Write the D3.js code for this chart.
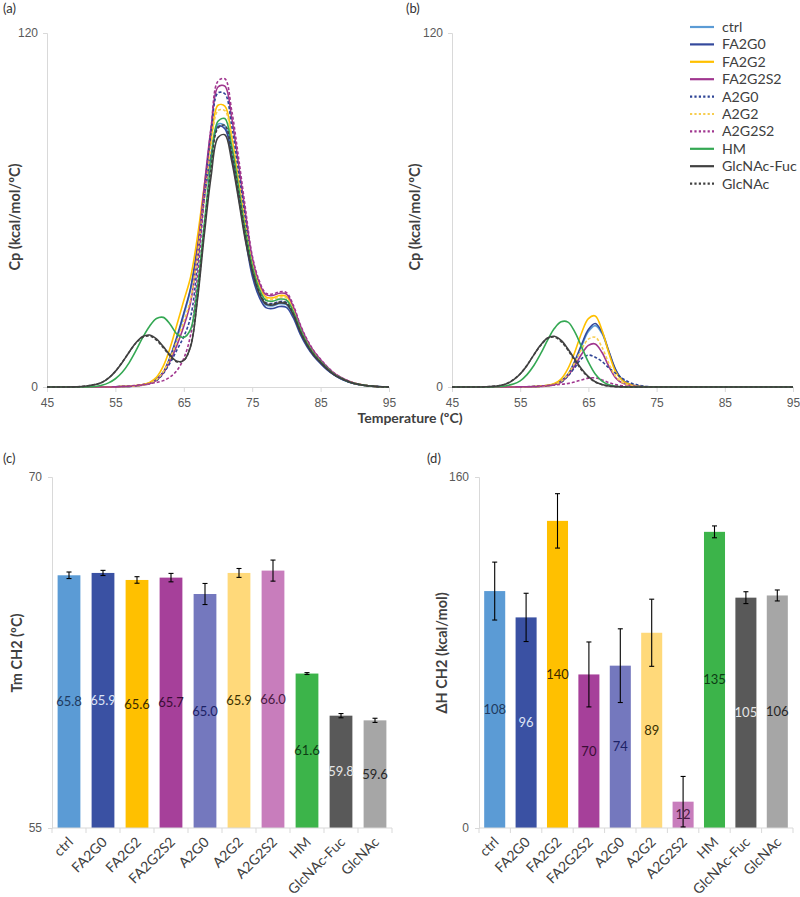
<!DOCTYPE html>
<html>
<head>
<meta charset="utf-8">
<script src="https://cdn.jsdelivr.net/npm/d3@7"></script>
<style>
  body { margin: 0; background: #fff; }
  svg { font-family: Lato, "Open Sans", sans-serif; }
  .domain { stroke: #d9d9d9; }
  .tick line { stroke: #d9d9d9; }
  .tick text { fill: #595959; font-size: 12px; }
</style>
</head>
<body>
<div id="chart"></div>
<script>
// temperature grid (ºC)
const temps = [45, 46, 47, 48, 49, 50, 51, 52, 53, 54, 55, 56, 57, 58, 59, 60, 61, 62, 63, 64,
  65, 66, 67, 68, 69, 70, 71, 72, 73, 74, 75, 76, 77, 78, 79, 80, 81, 82, 83, 84,
  85, 86, 87, 88, 89, 90, 91, 92, 93, 94, 95];

const seriesNames = ["ctrl", "FA2G0", "FA2G2", "FA2G2S2", "A2G0", "A2G2", "A2G2S2", "HM", "GlcNAc-Fuc", "GlcNAc"];
const seriesColors = ["#5b9bd5", "#34499c", "#ffc000", "#a0368f", "#2f4596", "#f7cd4f", "#a0368f", "#34a853", "#404040", "#404040"];
const seriesDashed = [false, false, false, false, true, true, true, false, false, true];

// (a) full thermograms, Cp in kcal/mol/ºC
const ctrlA = [0,0,0,0,0, 0,0,0,0.01,0.03, 0.05,0.17,0.21,0.42,0.75, 1.31,2.54,4.91,9.83,16.5,
  24.4,33.1,47.6,64.7,79.2, 89.1,88.6,79.1,65.5,51.1, 38.9,31.6,27.8,27.5,28.2, 27.9,24.3,18.6,14.1,10.7,
  8.2,5.9,4.1,2.8,1.8, 1.1,0.7,0.4,0.2,0.06, 0];
const fa2g0A = [0,0,0,0,0, 0,0,0,0.01,0.03, 0.05,0.17,0.21,0.43,0.77, 1.35,2.63,5.1,10.2,17.1,
  25.1,33.6,47.8,64.3,78.5, 88.3,87.6,78.2,64.7,50.5, 37.7,30.6,26.9,26.6,27.3, 27.0,23.5,18.0,13.7,10.4,
  7.9,5.7,4.0,2.7,1.8, 1.1,0.66,0.35,0.16,0.05, 0];
const fa2g2A = [0,0,0,0,0, 0,0,0.01,0.02,0.04, 0.07,0.2,0.25,0.49,0.84, 1.58,3.28,7.07,13.3,21.2,
  29.3,37.3,51.0,68.3,84.0, 95.5,95.2,85.0,70.4,54.9, 42.8,34.7,30.5,30.2,31.0, 30.7,26.7,20.5,15.5,11.8,
  9.0,6.5,4.5,3.1,2.0, 1.24,0.74,0.4,0.19,0.06, 0];
const fa2g2s2A = [0,0,0,0,0, 0,0,0,0.01,0.02, 0.04,0.16,0.19,0.39,0.64, 1.14,2.22,4.73,8.86,14.2,
  20.6,28.8,45.9,68.1,88.0, 101.7,102.0,91.3,75.6,59.0, 43.9,35.6,31.3,31.0,31.8, 31.5,27.3,21.0,15.9,12.1,
  9.2,6.7,4.6,3.2,2.1, 1.3,0.76,0.41,0.19,0.06, 0];
const a2g0A = [0,0,0,0,0, 0,0,0,0.01,0.02, 0.03,0.15,0.2,0.4,0.7, 1.2,2.2,4.6,8.2,12.6,
  17.1,23.8,41.5,65.4,86.4, 99.7,99.4,88.6,73.2,57.0, 40.0,32.5,28.6,28.3,29.0, 28.7,24.9,19.1,14.5,11.0,
  8.4,6.1,4.2,2.9,1.9, 1.16,0.7,0.38,0.17,0.06, 0];
const a2g2A = [0,0,0,0,0, 0,0,0,0.01,0.02, 0.04,0.17,0.2,0.4,0.69, 1.23,2.47,5.16,9.82,15.7,
  22.2,29.9,44.8,64.1,81.5, 93.7,93.7,83.9,69.4,54.2, 42.1,34.2,30.0,29.7,30.5, 30.2,26.2,20.1,15.3,11.6,
  8.8,6.4,4.4,3.05,2.0, 1.22,0.73,0.4,0.18,0.06, 0];
const a2g2s2A = [0,0,0,0,0, 0,0,0,0.01,0.02, 0.05,0.21,0.31,0.56,0.82, 1.13,1.54,2.16,3.4,5.6,
  9.7,17.7,37.6,64.3,88.1, 103.7,104.5,93.8,77.8,60.7, 44.6,36.2,31.8,31.5,32.3, 32.0,27.8,21.3,16.2,12.3,
  9.4,6.8,4.7,3.2,2.1, 1.3,0.78,0.42,0.19,0.06, 0];
const hmA = [0,0,0,0,0, 0.01,0.05,0.15,0.6,1.4, 2.8,5.0,8.2,12.3,16.8, 20.6,23.2,23.6,21.3,17.9,
  16.8,19.6,33.8,55.5,76.4, 90.1,91.0,81.7,67.7,52.9, 41.1,33.4,29.4,29.1,29.8, 29.5,25.6,19.7,14.9,11.3,
  8.6,6.3,4.3,3.0,1.9, 1.2,0.72,0.39,0.18,0.06, 0];
const glcnacFucA = [0,0,0,0.01,0.05, 0.15,0.4,0.8,1.5,3.0, 5.3,8.3,11.8,15.0,17.1, 17.6,16.3,13.7,10.8,8.7,
  9.0,13.7,29.6,51.7,71.6, 84.6,85.5,76.7,63.7,49.7, 39.3,31.9,28.1,27.8,28.5, 28.2,24.5,18.8,14.3,10.8,
  8.3,6.0,4.1,2.9,1.9, 1.1,0.7,0.4,0.2,0.06, 0];
const glcnacA = [0,0,0,0.01,0.06, 0.17,0.42,0.82,1.55,3.05, 5.35,8.4,11.8,14.9,16.9, 17.3,15.9,13.3,10.5,8.5,
  9.0,14.1,30.6,53.7,74.3, 87.8,88.7,79.6,66.1,51.6, 39.7,32.3,28.4,28.1,28.8, 28.5,24.8,19.0,14.4,10.9,
  8.4,6.0,4.2,2.9,1.9, 1.15,0.69,0.37,0.17,0.06, 0];

// (b) CH2 domain only
const ctrlB = [0,0,0,0,0, 0,0,0,0.01,0.03, 0.05,0.08,0.12,0.24,0.48, 0.95,2.0,4.1,8.4,13.8,
  18.8,20.8,18.1,11.9,5.8, 2.3,0.85,0.33,0.11,0.03, 0,0,0,0,0, 0,0,0,0,0, 0,0,0,0,0, 0,0,0,0,0, 0];
const fa2g0B = [0,0,0,0,0, 0,0,0,0.01,0.03, 0.05,0.08,0.12,0.25,0.5, 1.0,2.1,4.3,8.8,14.4,
  19.5,21.5,18.6,12.1,5.9, 2.4,0.9,0.35,0.12,0.03, 0,0,0,0,0, 0,0,0,0,0, 0,0,0,0,0, 0,0,0,0,0, 0];
const fa2g2B = [0,0,0,0,0, 0,0,0.01,0.02,0.04, 0.07,0.1,0.15,0.3,0.55, 1.2,2.7,6.2,11.8,18.3,
  23.2,24.1,19.2,11.5,5.1, 2.2,0.9,0.35,0.12,0.03, 0,0,0,0,0, 0,0,0,0,0, 0,0,0,0,0, 0,0,0,0,0, 0];
const fa2g2s2B = [0,0,0,0,0, 0,0,0,0.01,0.02, 0.04,0.06,0.09,0.18,0.33, 0.73,1.6,3.8,7.2,11.1,
  14.1,14.6,11.7,7.0,3.1, 1.3,0.55,0.2,0.07,0.02, 0,0,0,0,0, 0,0,0,0,0, 0,0,0,0,0, 0,0,0,0,0, 0];
const a2g0B = [0,0,0,0,0, 0,0,0,0.01,0.02, 0.03,0.05,0.1,0.2,0.4, 0.8,1.6,3.7,6.6,9.6,
  10.8,10.1,8.6,6.5,4.6, 2.9,1.6,0.8,0.35,0.12, 0.03,0,0,0,0, 0,0,0,0,0, 0,0,0,0,0, 0,0,0,0,0, 0];
const a2g2B = [0,0,0,0,0, 0,0,0,0.01,0.02, 0.04,0.07,0.1,0.21,0.4, 0.85,1.9,4.3,8.3,12.8,
  16.2,16.9,13.4,8.0,3.6, 1.5,0.6,0.25,0.08,0.02, 0,0,0,0,0, 0,0,0,0,0, 0,0,0,0,0, 0,0,0,0,0, 0];
const a2g2s2B = [0,0,0,0,0, 0,0,0,0.01,0.02, 0.05,0.1,0.2,0.35,0.5, 0.7,0.9,1.2,1.7,2.4,
  3.0,3.1,2.4,1.5,0.8, 0.4,0.15,0.05,0,0, 0,0,0,0,0, 0,0,0,0,0, 0,0,0,0,0, 0,0,0,0,0, 0];
const hmB = [0,0,0,0,0, 0.01,0.05,0.15,0.45,0.98, 2.1,4.2,7.3,11.3,15.8, 19.8,22.1,22.0,18.7,13.6,
  8.4,4.4,2.0,0.76,0.25, 0.07,0.02,0,0,0, 0,0,0,0,0, 0,0,0,0,0, 0,0,0,0,0, 0,0,0,0,0, 0];
const glcnacFucB = [0,0,0,0.01,0.02, 0.06,0.2,0.48,1.1,2.4, 4.4,7.3,10.9,14.2,16.6, 17.2,15.8,12.9,9.4,6.1,
  3.5,1.8,0.82,0.33,0.12, 0.04,0.01,0,0,0, 0,0,0,0,0, 0,0,0,0,0, 0,0,0,0,0, 0,0,0,0,0, 0];
const glcnacB = [0,0,0,0.01,0.03, 0.08,0.22,0.52,1.15,2.5, 4.5,7.4,10.9,14.1,16.4, 16.9,15.4,12.5,9.0,5.8,
  3.3,1.7,0.78,0.31,0.11, 0.04,0.01,0,0,0, 0,0,0,0,0, 0,0,0,0,0, 0,0,0,0,0, 0,0,0,0,0, 0];

const tempTicks = [45, 55, 65, 75, 85, 95];
const cpTicks = [0, 120];

// (c) and (d) bars
const barColors = ["#5b9bd5", "#3a51a3", "#ffc000", "#a6409a", "#7478be", "#ffd97a", "#c87dbc", "#3cb44a", "#595959", "#a6a6a6"];
const barLabelColors = ["#1f3a60", "#dde3f5", "#3a2a00", "#3a0d35", "#1c2266", "#3a3000", "#4a1a42", "#0d3d14", "#e6e6e6", "#262626"];
const tmValues = [65.8, 65.9, 65.6, 65.7, 65.0, 65.9, 66.0, 61.6, 59.8, 59.6];
const tmErrors = [0.14, 0.11, 0.14, 0.18, 0.45, 0.19, 0.45, 0.04, 0.09, 0.09];
const tmTicks = [55, 70];
const dhValues = [108, 96, 140, 70, 74, 89, 12, 135, 105, 106];
const dhErrors = [13.2, 11, 12.4, 14.8, 16.8, 15.3, 11.5, 2.7, 2.7, 2.5];
const dhTicks = [0, 160];

const svg = d3.select("#chart").append("svg").attr("width", 800).attr("height", 897);

const cpA = [ctrlA, fa2g0A, fa2g2A, fa2g2s2A, a2g0A, a2g2A, a2g2s2A, hmA, glcnacFucA, glcnacA];
const cpB = [ctrlB, fa2g0B, fa2g2B, fa2g2s2B, a2g0B, a2g2B, a2g2s2B, hmB, glcnacFucB, glcnacB];

function thermogram(xRange, sets, tag, tagX, titleX) {
  const x = d3.scaleLinear().domain([45, 95]).range(xRange);
  const y = d3.scaleLinear().domain([0, 120]).range([387, 33]);
  const g = svg.append("g");

  g.append("g").attr("transform", `translate(0,${y(0)})`)
    .call(d3.axisBottom(x).tickValues(tempTicks).tickSize(5).tickPadding(6));
  g.append("g").attr("transform", `translate(${xRange[0]},0)`)
    .call(d3.axisLeft(y).tickValues(cpTicks).tickSize(4).tickPadding(5));

  const line = d3.line()
    .x((d, i) => x(temps[i]))
    .y(d => y(d))
    .curve(d3.curveCatmullRom);

  sets.forEach((vals, i) => {
    g.append("path")
      .attr("d", line(vals))
      .attr("fill", "none")
      .attr("stroke", seriesColors[i])
      .attr("stroke-width", 1.6)
      .attr("stroke-dasharray", seriesDashed[i] ? "3,2" : null);
  });

  svg.append("text").attr("x", tagX).attr("y", 13).attr("font-size", 13).attr("fill", "#333").text(tag);
  svg.append("text")
    .attr("transform", `translate(${titleX},217) rotate(-90)`)
    .attr("text-anchor", "middle")
    .attr("font-size", 14.5).attr("font-weight", "bold").attr("fill", "#404040")
    .text("Cp (kcal/mol/ºC)");
}

thermogram([47, 389], cpA, "(a)", 3, 20);
thermogram([452, 793], cpB, "(b)", 406, 420);

svg.append("text")
  .attr("x", 410).attr("y", 423)
  .attr("text-anchor", "middle")
  .attr("font-size", 14).attr("font-weight", "bold").attr("fill", "#404040")
  .text("Temperature (ºC)");

// legend
const legend = svg.append("g").attr("transform", "translate(690,27)");
seriesNames.forEach((name, i) => {
  const row = legend.append("g").attr("transform", `translate(0,${i * 17.4})`);
  row.append("line").attr("x1", 0).attr("x2", 24)
    .attr("stroke", seriesColors[i]).attr("stroke-width", 2.2)
    .attr("stroke-dasharray", seriesDashed[i] ? "2.2,2.2" : null);
  row.append("text").attr("x", 32).attr("dy", "0.35em")
    .attr("font-size", 14.2).attr("fill", "#404040").text(name);
});

function barPanel(xRange, domain, ticks, values, errors, tag, tagX, title, titleX, fmt) {
  const x = d3.scaleBand().domain(seriesNames).range(xRange).paddingInner(0.33).paddingOuter(0.165);
  const y = d3.scaleLinear().domain(domain).range([828, 477]);
  const g = svg.append("g");

  g.append("g").attr("transform", `translate(${xRange[0]},0)`)
    .call(d3.axisLeft(y).tickValues(ticks).tickSize(4).tickPadding(6));

  g.selectAll(".bar").data(values).enter().append("rect")
    .attr("x", (d, i) => x(seriesNames[i]))
    .attr("y", d => y(d))
    .attr("width", x.bandwidth())
    .attr("height", d => y(domain[0]) - y(d))
    .attr("fill", (d, i) => barColors[i]);

  const xAxis = g.append("g").attr("transform", `translate(0,${y(domain[0])})`);
  xAxis.append("line").attr("x1", xRange[0]).attr("x2", xRange[1]).attr("stroke", "#d9d9d9");
  x.domain().forEach((c, i) => {
    const bx = x(c) - x.step() * x.paddingInner() / 2;
    xAxis.append("line").attr("x1", bx).attr("x2", bx).attr("y1", 0).attr("y2", 5).attr("stroke", "#d9d9d9");
  });
  xAxis.append("line").attr("x1", xRange[1]).attr("x2", xRange[1]).attr("y1", 0).attr("y2", 5).attr("stroke", "#d9d9d9");

  seriesNames.forEach((c, i) => {
    const cx = x(c) + x.bandwidth() / 2;
    xAxis.append("text")
      .attr("transform", `translate(${cx + 5},15) rotate(-45)`)
      .attr("text-anchor", "end")
      .attr("font-size", 14).attr("fill", "#404040")
      .text(c);
  });

  // error bars
  values.forEach((v, i) => {
    const cx = x(seriesNames[i]) + x.bandwidth() / 2;
    const lo = Math.max(domain[0], v - errors[i]);
    const hi = v + errors[i];
    g.append("line").attr("x1", cx).attr("x2", cx).attr("y1", y(lo)).attr("y2", y(hi))
      .attr("stroke", "#000").attr("stroke-width", 1.1);
    [lo, hi].forEach(e => {
      g.append("line").attr("x1", cx - 2.5).attr("x2", cx + 2.5).attr("y1", y(e)).attr("y2", y(e))
        .attr("stroke", "#000").attr("stroke-width", 1.1);
    });
  });

  g.selectAll(".val").data(values).enter().append("text")
    .attr("x", (d, i) => x(seriesNames[i]) + x.bandwidth() / 2)
    .attr("y", d => y((d + domain[0]) / 2))
    .attr("dy", "0.35em")
    .attr("text-anchor", "middle")
    .attr("font-size", 13)
    .attr("fill", (d, i) => barLabelColors[i])
    .text(fmt);

  svg.append("text").attr("x", tagX).attr("y", 463).attr("font-size", 13).attr("fill", "#333").text(tag);
  svg.append("text")
    .attr("transform", `translate(${titleX},653) rotate(-90)`)
    .attr("text-anchor", "middle")
    .attr("font-size", 14.5).attr("font-weight", "bold").attr("fill", "#404040")
    .text(title);
}

barPanel([52, 392], [55, 70], tmTicks, tmValues, tmErrors, "(c)", 3, "Tm CH2 (ºC)", 22, d => d.toFixed(1));
barPanel([479, 793], [0, 160], dhTicks, dhValues, dhErrors, "(d)", 427, "ΔH CH2 (kcal/mol)", 447, d => d);
</script>
</body>
</html>
